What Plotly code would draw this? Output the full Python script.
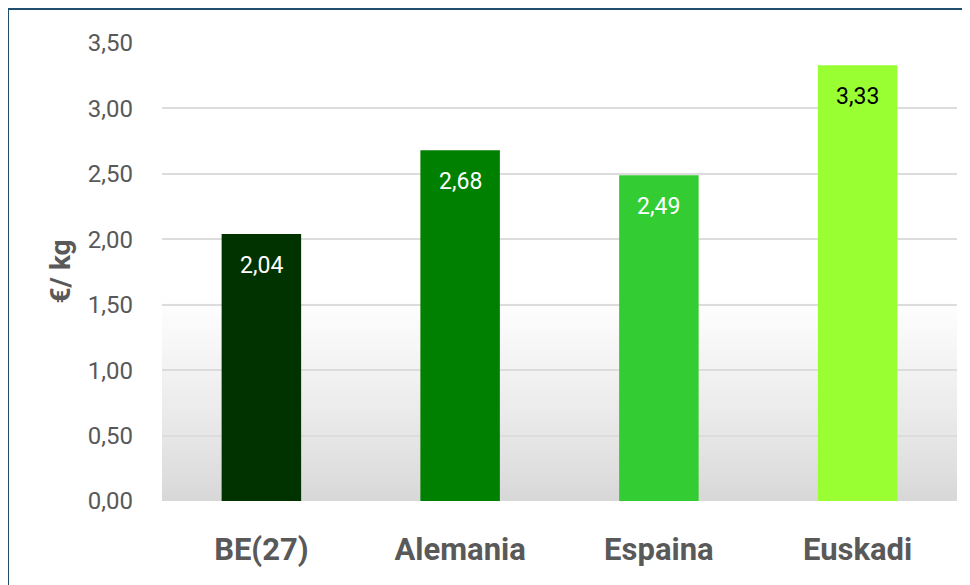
import plotly.graph_objects as go

# data
regions = ['BE(27)', 'Alemania', 'Espaina', 'Euskadi']
prices = [2.04, 2.68, 2.49, 3.33]
bar_colors = ['#003300', '#008000', '#33cc33', '#99ff33']
label_colors = ['white', 'white', 'white', 'black']

# page has an 8px body margin, so the figure is sized to fit the window
W, H = 962, 577
L, R, T, B = 154, 13, 35, 84
pw, ph = W - L - R, H - T - B

fig = go.Figure()
fig.add_trace(go.Bar(x=regions, y=prices, marker_color=bar_colors,
                     marker_line_width=0, width=0.4, hoverinfo='skip'))

# value labels inside the bars, a bit below the top
for r, p, c in zip(regions, prices, label_colors):
    fig.add_annotation(x=r, y=p, text=f'{p:.2f}'.replace('.', ','), showarrow=False,
                       yshift=-31, font=dict(family='Roboto', size=23, color=c))

# soft grey gradient at the bottom of the plot area
steps = 80
top = 0.45
for i in range(steps):
    t = (i + 0.5) / steps
    g = round(0xd7 + (0xff - 0xd7) * t ** 0.85)
    fig.add_shape(type='rect', xref='paper', yref='paper', x0=0, x1=1,
                  y0=top * i / steps, y1=top * (i + 1) / steps + 0.002,
                  fillcolor=f'rgb({g},{g},{min(g + 1, 255)})', line_width=0, layer='below')

# frame around the picture
fig.add_shape(type='rect', xref='paper', yref='paper',
              x0=(0 - L) / pw, x1=(W + 20 - L) / pw,
              y0=-(B + 20) / ph, y1=(ph + T - 1) / ph,
              line=dict(color='#1f4e6e', width=2), fillcolor='rgba(0,0,0,0)')

fig.add_annotation(xref='paper', yref='paper', x=(33 - L) / pw, y=0.5,
                   text='<b>€/ kg</b>', textangle=-90, showarrow=False,
                   font=dict(family='Roboto', size=28, color='#595959'))

fig.update_layout(
    width=W, height=H,
    margin=dict(l=L, r=R, t=T, b=B),
    paper_bgcolor='white', plot_bgcolor='rgba(0,0,0,0)',
    separators=',.',
    showlegend=False,
    bargap=0.6,
)
fig.update_xaxes(showgrid=False, showline=False, ticks='', ticklabelstandoff=27,
                 tickfont=dict(family='Roboto', size=31, color='#595959', weight='bold'))
fig.update_yaxes(range=[0, 3.5], dtick=0.5, tickformat='.2f', showline=False,
                 gridcolor='#dcdcdc', gridwidth=2, zeroline=False,
                 ticklabelstandoff=28,
                 tickfont=dict(family='Roboto', size=24, color='#595959'))

fig.write_html('out.html')
